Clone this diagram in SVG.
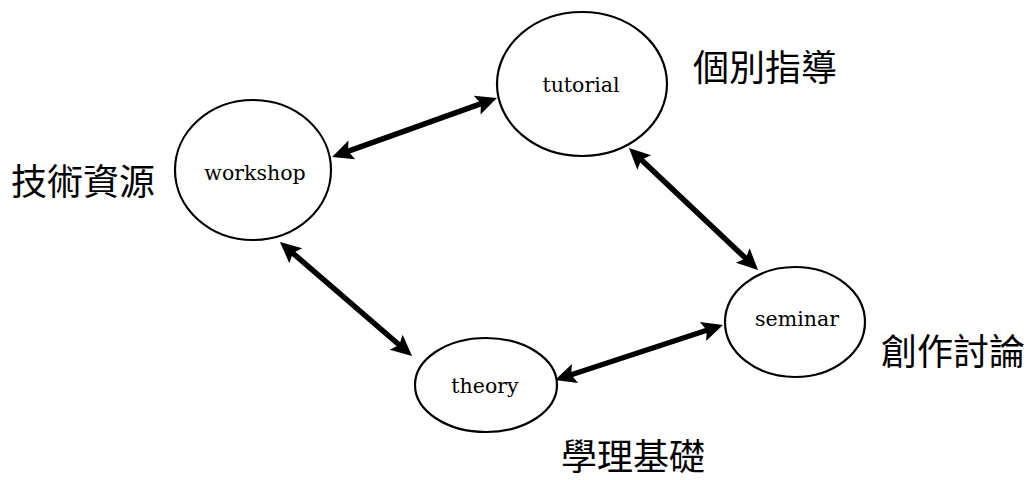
<svg xmlns="http://www.w3.org/2000/svg" width="1035" height="480" viewBox="0 0 1035 480">
<style>
.node ellipse{fill:#fff;stroke:#000;stroke-width:2.2}
.node text{font-family:"DejaVu Serif","Liberation Serif",serif;font-size:20.5px;fill:#000;text-anchor:middle}
.lbl{font-family:"Noto Sans CJK TC","Noto Sans CJK SC",sans-serif;font-size:36px;fill:#000}
.conn line{stroke:#000;stroke-width:5.5;marker-start:url(#ah);marker-end:url(#ah)}
</style>
<defs>
<marker id="ah" markerUnits="userSpaceOnUse" markerWidth="26" markerHeight="26" viewBox="-2 -13 26 26" refX="8" refY="0" orient="auto-start-reverse" overflow="visible">
<path d="M21,0 L0,-10 L4,0 L0,10 Z" fill="#000"/>
</marker>
</defs>
<rect width="1035" height="480" fill="#fff"/>
<g class="conn" id="connectors">
<line x1="344.3" y1="152.6" x2="484.7" y2="102.4"/>
<line x1="289.8" y1="250.5" x2="402.2" y2="347.5"/>
<line x1="638.4" y1="156.9" x2="748.6" y2="261.1"/>
<line x1="567.4" y1="376.0" x2="710.6" y2="329.0"/>
</g>
<g class="node" id="workshop">
<ellipse cx="253" cy="170" rx="78" ry="70"/>
<text x="255" y="180">workshop</text>
</g>
<g class="node" id="tutorial">
<ellipse cx="582" cy="84" rx="85" ry="72"/>
<text x="581" y="92">tutorial</text>
</g>
<g class="node" id="seminar">
<ellipse cx="795" cy="322" rx="70" ry="55"/>
<text x="797" y="326">seminar</text>
</g>
<g class="node" id="theory">
<ellipse cx="486" cy="385" rx="71" ry="47"/>
<text x="485" y="393">theory</text>
</g>
<g id="labels">
<text class="lbl" x="11" y="195">技術資源</text>
<text class="lbl" x="693" y="81">個別指導</text>
<text class="lbl" x="881" y="365">創作討論</text>
<text class="lbl" x="561" y="470">學理基礎</text>
</g>
</svg>
